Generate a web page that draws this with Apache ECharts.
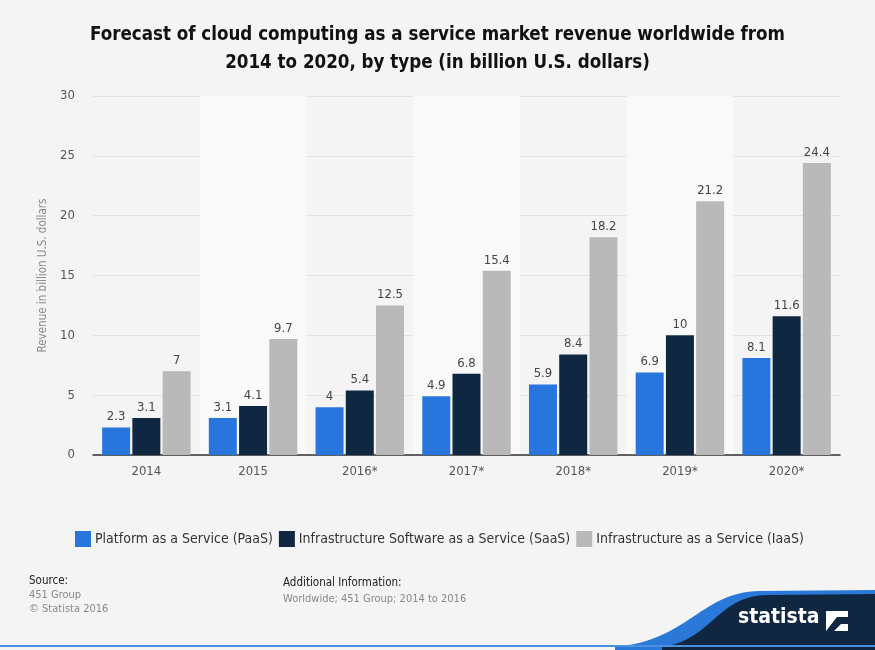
<!DOCTYPE html>
<html><head><meta charset="utf-8">
<script src="https://cdn.jsdelivr.net/npm/echarts@6/dist/echarts.min.js"></script>
<style>html,body{margin:0;padding:0;background:#f4f4f4}#c{width:875px;height:650px}</style>
</head><body><div id="c"></div>
<script>
const categories = ['2014','2015','2016*','2017*','2018*','2019*','2020*'];
const paas = [2.3, 3.1, 4, 4.9, 5.9, 6.9, 8.1];
const saas = [3.1, 4.1, 5.4, 6.8, 8.4, 10, 11.6];
const iaas = [7, 9.7, 12.5, 15.4, 18.2, 21.2, 24.4];
const seriesNames = ['Platform as a Service (PaaS)','Infrastructure Software as a Service (SaaS)','Infrastructure as a Service (IaaS)'];
const colors = ['#2876dd','#0f2741','#b9b9b9'];
const FONT = "'DejaVu Sans Condensed','DejaVu Sans',sans-serif";

function curve(p0,p1,p2,p3,tail){
  const pts=[];
  for(let i=0;i<=30;i++){const t=i/30,u=1-t;
    pts.push([u*u*u*p0[0]+3*u*u*t*p1[0]+3*u*t*t*p2[0]+t*t*t*p3[0],
              u*u*u*p0[1]+3*u*u*t*p1[1]+3*u*t*t*p2[1]+t*t*t*p3[1]]);}
  return pts.concat(tail);
}
const bluePts = curve([615,647],[690,640],[700,592],[760,591],[[875,590],[875,650],[615,650]]);
const navyPts = curve([662,647],[712,640],[717,596],[767,595],[[875,594],[875,650],[662,650]]);

const chart = echarts.init(document.getElementById('c'));
const lbl = {show:true, position:'top', distance:4, color:'#444', fontSize:13, fontFamily:FONT};
function mk(name, data, i){
  return {name, type:'bar', data, barWidth:28, barGap:'8%', itemStyle:{color:colors[i]}, label:lbl};
}
chart.setOption({
  backgroundColor:'#f4f4f4',
  animation:false,
  title:{text:'Forecast of cloud computing as a service market revenue worldwide from\n2014 to 2020, by type (in billion U.S. dollars)',
    left:'center', top:16,
    textStyle:{fontSize:18.6, fontWeight:'bold', color:'#111', fontFamily:FONT, lineHeight:28}},
  grid:{left:93, right:35, top:96, bottom:195},
  legend:{bottom:98, left:70, itemWidth:16, itemHeight:16, itemGap:6, icon:'rect',
    textStyle:{fontSize:14, color:'#333', fontFamily:FONT, padding:[0,0,0,-1]},
    data:seriesNames},
  xAxis:{type:'category', data:categories,
    axisLine:{lineStyle:{color:'#333', width:1.5}}, axisTick:{show:false},
    axisLabel:{color:'#555', fontSize:13, fontFamily:FONT, margin:10},
    splitArea:{show:true, areaStyle:{color:['rgba(0,0,0,0)','#f9f9f9']}}},
  yAxis:{type:'value', min:0, max:30, interval:5,
    name:'Revenue in billion U.S. dollars', nameLocation:'middle', nameGap:42,
    nameTextStyle:{color:'#888', fontSize:11.5, fontFamily:FONT},
    axisLabel:{color:'#555', fontSize:13, fontFamily:FONT, margin:18},
    splitLine:{lineStyle:{color:'#e2e2e2'}}},
  series:[mk(seriesNames[0], paas, 0), mk(seriesNames[1], saas, 1), mk(seriesNames[2], iaas, 2)],
  graphic:[
    {type:'text', left:29, top:575, style:{text:'Source:', fontSize:11.5, fill:'#222', fontFamily:FONT}},
    {type:'text', left:29, top:590, style:{text:'451 Group', fontSize:11, fill:'#888', fontFamily:FONT}},
    {type:'text', left:29, top:604, style:{text:'© Statista 2016', fontSize:11, fill:'#888', fontFamily:FONT}},
    {type:'text', left:283, top:577, style:{text:'Additional Information:', fontSize:11.5, fill:'#222', fontFamily:FONT}},
    {type:'text', left:283, top:594, style:{text:'Worldwide; 451 Group; 2014 to 2016', fontSize:11, fill:'#888', fontFamily:FONT}},
    {type:'polygon', shape:{points:bluePts}, style:{fill:'#2a78d8'}},
    {type:'polygon', shape:{points:navyPts}, style:{fill:'#0f2741'}},
    {type:'rect', shape:{x:0, y:645, width:875, height:2}, style:{fill:'#4a8fe0'}},
    {type:'text', left:738, top:607, style:{text:'statista', fontSize:21, fontWeight:'bold', fill:'#fff', fontFamily:FONT}},
    {type:'rect', shape:{x:826, y:611, width:22, height:20}, style:{fill:'#fff'}},
    {type:'polygon', shape:{points:[[826,631],[837,617],[848,617],[848,624],[841,624],[834,631]]}, style:{fill:'#0f2741'}}
  ]
});
</script></body></html>
